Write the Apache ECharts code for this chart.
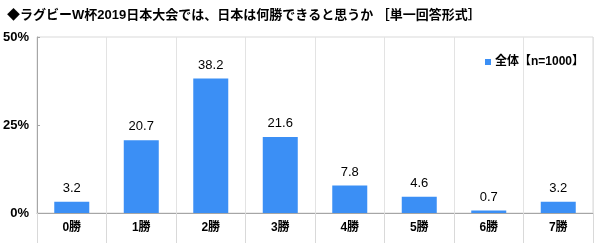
<!DOCTYPE html>
<html><head><meta charset="utf-8">
<script src="https://cdn.jsdelivr.net/npm/echarts@6/dist/echarts.min.js"></script>
<style>html,body{margin:0;padding:0;background:#fff}#c{width:600px;height:243px}</style>
</head><body><div id="c"></div>
<script>
const titleText = '◆ラグビーW杯2019日本大会では、日本は何勝できると思うか ［単一回答形式］';
const categories = ['0勝','1勝','2勝','3勝','4勝','5勝','6勝','7勝'];
const seriesName = '全体【n=1000】';
const values = [3.2, 20.7, 38.2, 21.6, 7.8, 4.6, 0.7, 3.2];
const yTicks = [0, 25, 50];
const FONT = '"Liberation Sans", "Noto Sans CJK JP", sans-serif';
const chart = echarts.init(document.getElementById('c'), null, {renderer:'canvas'});
chart.setOption({
  animation:false,
  textStyle:{fontFamily:FONT},
  title:{text:titleText,left:2,top:4,textStyle:{fontSize:13,fontWeight:'bold',color:'#000',fontFamily:FONT}},
  legend:{data:[seriesName],left:480,top:51,itemWidth:6,itemHeight:6,itemGap:4,icon:'rect',
    textStyle:{fontSize:12,fontWeight:'bold',color:'#000',fontFamily:FONT,padding:[0,0,0,-1]}},
  grid:{left:36,right:7,top:37,bottom:30,show:true,borderColor:'#d9d9d9',borderWidth:1},
  xAxis:{type:'category',data:categories,
    axisLine:{lineStyle:{color:'#a6a6a6'}},
    axisTick:{show:true,length:30,lineStyle:{color:'#d9d9d9'}},
    splitLine:{show:true,lineStyle:{color:'#e3e3e3'}},
    axisLabel:{fontSize:12,fontWeight:'bold',color:'#000',margin:9,fontFamily:FONT}},
  yAxis:{type:'value',min:0,max:50,interval:25,
    axisLine:{show:true,lineStyle:{color:'#a6a6a6'}},
    axisTick:{show:true,inside:true,length:3,lineStyle:{color:'#a6a6a6'}},
    splitLine:{show:false},
    axisLabel:{fontSize:13,fontWeight:'bold',color:'#000',margin:8,formatter:v=>yTicks.includes(v)?v+'%':'',fontFamily:FONT}},
  series:[{name:seriesName,type:'bar',data:values,barWidth:35,
    itemStyle:{color:'#3b8ff5'},
    label:{show:true,position:'top',distance:7,fontSize:13,color:'#000',fontFamily:FONT,formatter:p=>p.value.toFixed(1)}}]
});
</script></body></html>
